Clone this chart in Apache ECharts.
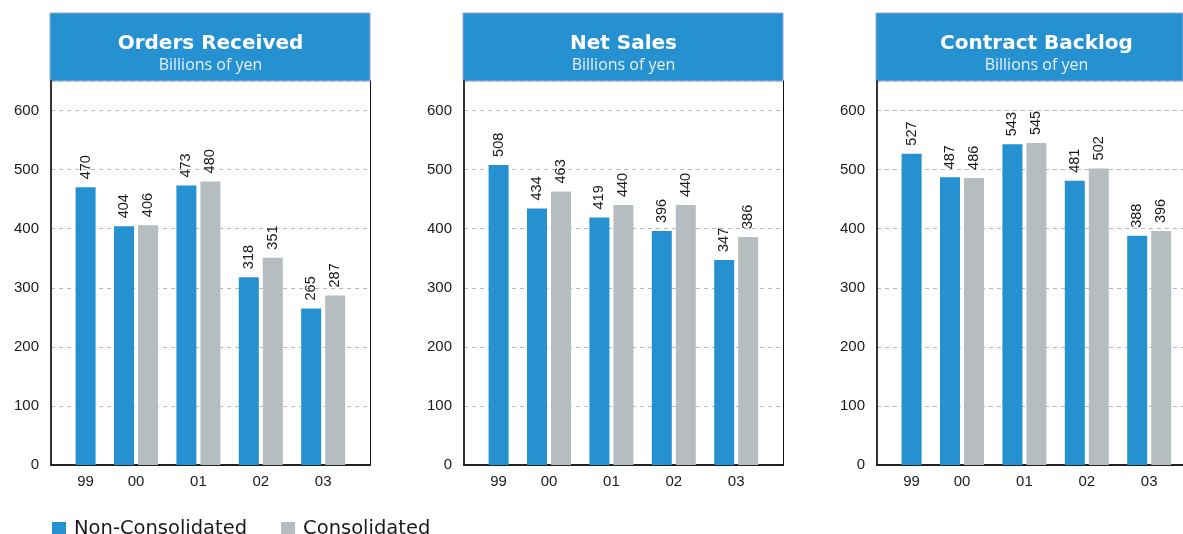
<!DOCTYPE html>
<html>
<head>
<meta charset="utf-8">
<script src="https://cdn.jsdelivr.net/npm/echarts@6/dist/echarts.min.js"></script>
<style>
  html, body { margin: 0; padding: 0; background: #ffffff; }
  #chart { width: 1183px; height: 534px; }
</style>
</head>
<body>
<div id="chart"></div>
<script>
// ---- data ----
const years = ['99', '00', '01', '02', '03'];
const panelTitles = ['Orders Received', 'Net Sales', 'Contract Backlog'];
const unitLabel = 'Billions of yen';
const ordersNonCons = [470, 404, 473, 318, 265];
const ordersCons = [null, 406, 480, 351, 287];
const salesNonCons = [508, 434, 419, 396, 347];
const salesCons = [null, 463, 440, 440, 386];
const backlogNonCons = [527, 487, 543, 481, 388];
const backlogCons = [null, 486, 545, 502, 396];
const yTicks = [0, 100, 200, 300, 400, 500, 600];
const seriesNames = ['Non-Consolidated', 'Consolidated'];

const panels = [
  { title: panelTitles[0], nc: ordersNonCons, c: ordersCons },
  { title: panelTitles[1], nc: salesNonCons, c: salesCons },
  { title: panelTitles[2], nc: backlogNonCons, c: backlogCons }
];

// ---- styling ----
const BLUE = '#2591d1';
const GREY = '#b6bdc0';
const HEADER_BORDER = '#9ca6d8';
const FONT = '"Liberation Sans"';

const chart = echarts.init(document.getElementById('chart'), null, { renderer: 'canvas' });

const grid = [], xAxis = [], yAxis = [], series = [], title = [];

panels.forEach((p, i) => {
  const L = 51 + 413 * i;      // left axis line of the panel
  const W = 319;               // frame width
  const TOP = 81, H = 384;     // plot area

  // header grid
  const hg = grid.length;
  grid.push({ left: L - 1, top: 13, width: W + 1, height: TOP - 13, show: true,
              backgroundColor: BLUE, borderColor: HEADER_BORDER, borderWidth: 1, containLabel: false });
  xAxis.push({ gridIndex: hg, type: 'value', show: false });
  yAxis.push({ gridIndex: hg, type: 'value', show: false });

  // frame grid (axes, split lines)
  const fg = grid.length;
  grid.push({ left: L, top: TOP, width: W, height: H, show: false, containLabel: false });
  xAxis.push({ gridIndex: fg, type: 'value', min: 0, max: 1,
               axisLine: { show: true, onZero: false, lineStyle: { color: '#222', width: 2 } },
               axisTick: { show: false }, axisLabel: { show: false }, splitLine: { show: false } });
  yAxis.push({ gridIndex: fg, type: 'value', min: 0, max: 650, interval: 100, position: 'left',
               axisLine: { show: true, lineStyle: { color: '#333', width: 2 } },
               axisTick: { show: false },
               axisLabel: { showMaxLabel: false, margin: 12, fontSize: 15, color: '#1a1a1a', fontFamily: FONT,
                            formatter: v => (yTicks.indexOf(v) >= 0 ? String(v) : '') },
               splitLine: { show: true, lineStyle: { color: '#b9b9b9', type: [4, 4], width: 1 } } });
  yAxis.push({ gridIndex: fg, type: 'value', min: 0, max: 650, position: 'right',
               axisLine: { show: true, lineStyle: { color: '#111', width: 1 } },
               axisTick: { show: false }, axisLabel: { show: false }, splitLine: { show: false } });

  // data grid
  const dg = grid.length;
  grid.push({ left: L - 8.6, top: TOP, width: 312, height: H, show: false, containLabel: false });
  const dx = xAxis.length;
  xAxis.push({ gridIndex: dg, type: 'category',
               data: years.map((y, k) => k === 0 ? { value: y, textStyle: { padding: [0, 0, 0, 24] } } : y),
               axisLine: { show: false }, axisTick: { show: false },
               axisLabel: { margin: 9, fontSize: 15, color: '#1a1a1a', fontFamily: FONT } });
  const dy = yAxis.length;
  yAxis.push({ gridIndex: dg, type: 'value', min: 0, max: 650, show: false });

  const label = { show: true, position: 'top', rotate: 90, align: 'left', verticalAlign: 'middle',
                  distance: 8, fontSize: 14.5, color: '#1a1a1a', fontFamily: FONT };
  // Non-consolidated bars for the years that also have a consolidated figure
  series.push({ type: 'bar', name: seriesNames[0], xAxisIndex: dx, yAxisIndex: dy,
                data: p.nc.map((v, k) => (p.c[k] == null ? '-' : v)),
                barWidth: 20, barGap: '20%', itemStyle: { color: BLUE }, label });
  // Consolidated bars
  series.push({ type: 'bar', name: seriesNames[1], xAxisIndex: dx, yAxisIndex: dy, stack: 'slot' + i,
                data: p.c.map(v => (v == null ? '-' : v)),
                barWidth: 20, barGap: '20%', itemStyle: { color: GREY }, label });
  // Non-consolidated bar for years without consolidated figure (single bar)
  series.push({ type: 'bar', name: seriesNames[0], xAxisIndex: dx, yAxisIndex: dy, stack: 'slot' + i,
                data: p.nc.map((v, k) => (p.c[k] == null ? v : '-')),
                barWidth: 20, barGap: '20%', itemStyle: { color: BLUE }, label });

  title.push({ text: p.title, subtext: unitLabel, left: L + W / 2, top: 34, textAlign: 'center',
               padding: 0, itemGap: 3,
               textStyle: { color: '#ffffff', fontSize: 20, fontWeight: 'bold', fontFamily: 'DejaVu Sans' },
               subtextStyle: { color: '#e6f1fa', fontSize: 16, fontFamily: 'Open Sans' } });
});

chart.setOption({
  animation: false,
  backgroundColor: '#ffffff',
  title,
  grid, xAxis, yAxis, series,
  legend: {
    data: seriesNames,
    left: 47, top: 514,
    icon: 'rect', itemWidth: 14, itemHeight: 14, itemGap: 34,
    textStyle: { fontSize: 19.5, color: '#1a1a1a', fontFamily: 'DejaVu Sans', padding: [0, 0, 0, 3] },
    selectedMode: false
  }
});
</script>
</body>
</html>
